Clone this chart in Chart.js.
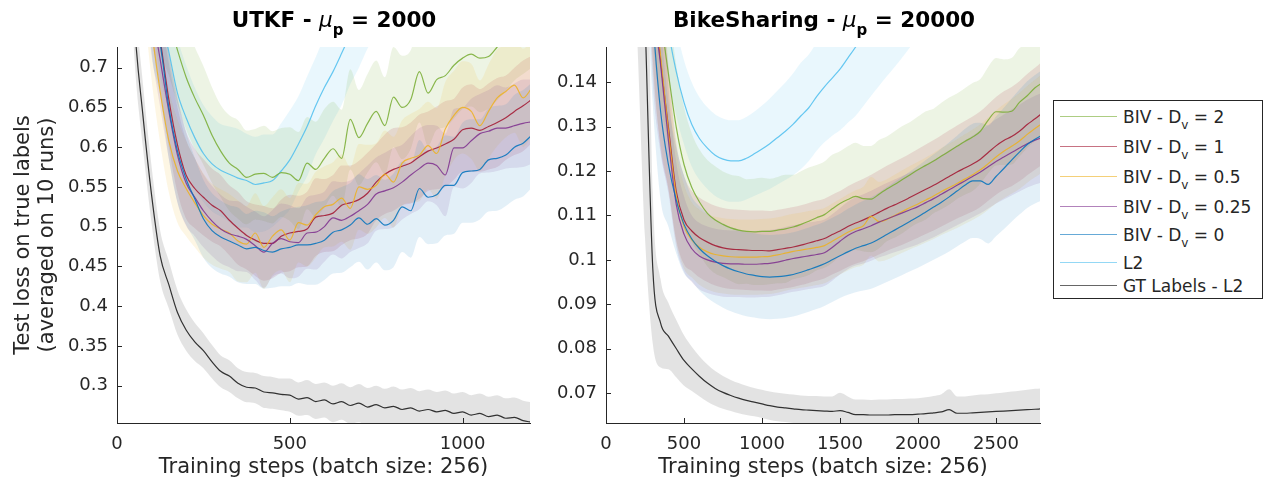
<!DOCTYPE html>
<html>
<head>
<meta charset="utf-8">
<script src="https://cdn.jsdelivr.net/npm/chart.js@4.4.1/dist/chart.umd.min.js"></script>
<style>
body { margin: 0; background: #fff; }
#page { position: relative; width: 1271px; height: 483px; overflow: hidden; font-family: "DejaVu Sans", sans-serif; background: #fff; }
canvas { position: absolute; top: 0; }
.ttl { position: absolute; top: 7px; width: 400px; height: 26px; line-height: 26px; text-align: center; font-weight: bold; font-size: 21.5px; color: #000; white-space: nowrap; }
.ttl .mu { font-style: italic; font-weight: normal; }
.ttl .sb { position: relative; top: 8px; font-size: 15px; }
#legend { position: absolute; left: 1053px; top: 100px; width: 208px; height: 197px; border: 1px solid #262626; background: #fff; }
.row { position: absolute; left: 0; width: 208px; height: 22px; line-height: 22px; font-size: 17px; color: #262626; }
.row i { position: absolute; left: 6px; top: 10px; width: 57px; height: 0; border-top: 1.5px solid; }
.row span.t { position: absolute; left: 69px; white-space: nowrap; }
.row .sb { position: relative; top: 6px; font-size: 12px; }
</style>
</head>
<body>
<div id="page">
  <canvas id="utkf" width="532" height="483" style="left:0px"></canvas>
  <canvas id="bike" width="492" height="483" style="left:550px"></canvas>
  <div class="ttl" style="left:134px">UTKF - <span class="mu">μ</span><span class="sb">p</span> = 2000</div>
  <div class="ttl" style="left:624px">BikeSharing - <span class="mu">μ</span><span class="sb">p</span> = 20000</div>
  <div id="legend"></div>
</div>
<script>
// ---------- UTKF panel (steps every 25) ----------
const utkSteps = [0,25,50,75,100,125,150,175,200,225,
  250,275,300,325,350,375,400,425,450,475,
  500,525,550,575,600,625,650,675,700,725,
  750,775,800,825,850,875,900,925,950,975,
  1000,1025,1050,1075,1100,1125,1150,1175,1200];

const utkGt = [1.2,1.0,0.76,0.64,0.54,0.463,0.427,0.392,0.37,0.355,
  0.344,0.33,0.318,0.312,0.303,0.298,0.297,0.292,0.291,0.289,
  0.288,0.283,0.285,0.28,0.282,0.277,0.28,0.275,0.278,0.273,
  0.276,0.272,0.274,0.27,0.272,0.268,0.27,0.267,0.269,0.265,
  0.267,0.263,0.265,0.261,0.263,0.259,0.26,0.256,0.254];
const utkL2 = [1.2,1.15,1.05,0.95,0.85,0.77,0.72,0.668,0.637,0.612,
  0.592,0.579,0.571,0.566,0.561,0.558,0.553,0.555,0.558,0.57,
  0.584,0.604,0.626,0.652,0.675,0.695,0.718,0.742,0.766,0.79,
  0.81,0.83,0.85,0.87,0.89,0.91,0.93,0.95,0.97,0.99,
  1.0,1.02,1.04,1.06,1.08,1.1,1.12,1.14,1.16];
const utkDv2 = [1.2,1.1,1.0,0.92,0.85,0.79,0.76,0.722,0.688,0.662,
  0.64,0.615,0.595,0.58,0.572,0.562,0.566,0.567,0.562,0.568,
  0.566,0.558,0.58,0.572,0.586,0.598,0.586,0.635,0.612,0.63,
  0.645,0.627,0.663,0.65,0.66,0.695,0.668,0.685,0.69,0.703,
  0.712,0.717,0.712,0.714,0.726,0.74,0.75,0.76,0.77];
const utkDv1 = [1.2,1.1,1.0,0.9,0.8,0.735,0.66,0.603,0.565,0.548,
  0.537,0.527,0.52,0.508,0.498,0.489,0.483,0.479,0.479,0.488,
  0.492,0.494,0.497,0.512,0.514,0.517,0.527,0.53,0.534,0.542,
  0.556,0.566,0.572,0.576,0.58,0.588,0.595,0.599,0.604,0.61,
  0.622,0.624,0.621,0.626,0.631,0.637,0.645,0.652,0.66];
const utkDv05 = [1.2,1.1,1.0,0.86,0.75,0.67,0.608,0.57,0.548,0.53,
  0.514,0.503,0.497,0.492,0.482,0.478,0.492,0.474,0.488,0.496,
  0.483,0.505,0.502,0.515,0.525,0.528,0.536,0.523,0.55,0.547,
  0.552,0.566,0.556,0.58,0.586,0.59,0.602,0.592,0.623,0.64,
  0.65,0.645,0.627,0.645,0.662,0.67,0.678,0.662,0.674];
const utkDv025 = [1.2,1.1,1.0,0.9,0.78,0.71,0.645,0.59,0.555,0.537,
  0.52,0.507,0.497,0.491,0.488,0.484,0.476,0.468,0.479,0.485,
  0.481,0.48,0.492,0.493,0.5,0.511,0.508,0.513,0.52,0.528,
  0.541,0.545,0.549,0.556,0.565,0.573,0.58,0.577,0.565,0.599,
  0.599,0.608,0.617,0.62,0.624,0.624,0.627,0.63,0.632];
const utkDv0 = [1.2,1.1,1.0,0.9,0.78,0.73,0.65,0.595,0.56,0.535,
  0.51,0.495,0.487,0.482,0.477,0.472,0.474,0.47,0.468,0.472,
  0.474,0.477,0.477,0.479,0.483,0.493,0.496,0.502,0.511,0.503,
  0.51,0.502,0.508,0.525,0.52,0.548,0.537,0.54,0.552,0.552,
  0.568,0.57,0.572,0.584,0.586,0.59,0.6,0.605,0.615];

// spread (std over runs) for each UTKF curve
const utkGtSd = [0.05,0.05,0.045,0.04,0.036,0.032,0.03,0.028,0.026,0.024,
  0.022,0.021,0.02,0.02,0.019,0.019,0.019,0.02,0.02,0.02,
  0.021,0.021,0.022,0.022,0.022,0.023,0.023,0.023,0.024,0.024,
  0.024,0.024,0.025,0.025,0.025,0.025,0.025,0.025,0.025,0.025,
  0.025,0.025,0.025,0.025,0.025,0.025,0.025,0.025,0.025];
const utkL2Sd = [0.08,0.08,0.08,0.08,0.08,0.08,0.075,0.07,0.066,0.063,
  0.061,0.06,0.058,0.06,0.062,0.059,0.06,0.061,0.058,0.06,
  0.062,0.06,0.063,0.061,0.064,0.062,0.065,0.063,0.066,0.066,
  0.068,0.067,0.069,0.068,0.07,0.069,0.071,0.07,0.072,0.071,
  0.073,0.072,0.073,0.074,0.073,0.075,0.074,0.075,0.076];
const utkDv2Sd = [0.07,0.07,0.07,0.07,0.07,0.07,0.07,0.068,0.066,0.064,
  0.062,0.06,0.058,0.06,0.062,0.059,0.057,0.06,0.058,0.056,
  0.059,0.061,0.058,0.06,0.062,0.059,0.061,0.063,0.06,0.062,
  0.064,0.061,0.063,0.065,0.062,0.064,0.066,0.063,0.065,0.067,
  0.064,0.066,0.068,0.065,0.067,0.069,0.066,0.068,0.07];
const utkDv1Sd = [0.06,0.06,0.06,0.06,0.06,0.06,0.06,0.06,0.055,0.05,
  0.048,0.046,0.045,0.044,0.046,0.043,0.045,0.047,0.044,0.046,
  0.048,0.045,0.047,0.049,0.046,0.048,0.05,0.047,0.049,0.051,
  0.048,0.05,0.052,0.049,0.051,0.053,0.05,0.052,0.054,0.051,
  0.053,0.055,0.052,0.054,0.056,0.053,0.055,0.057,0.055];
const utkDv05Sd = [0.065,0.065,0.065,0.065,0.065,0.065,0.065,0.065,0.06,0.056,
  0.053,0.051,0.05,0.049,0.051,0.048,0.05,0.052,0.049,0.051,
  0.053,0.05,0.052,0.054,0.051,0.053,0.055,0.052,0.054,0.056,
  0.053,0.055,0.057,0.054,0.056,0.058,0.055,0.057,0.059,0.056,
  0.058,0.06,0.057,0.059,0.061,0.058,0.06,0.062,0.06];
const utkDv025Sd = [0.06,0.06,0.06,0.06,0.06,0.06,0.06,0.06,0.054,0.049,
  0.046,0.044,0.043,0.042,0.044,0.041,0.043,0.045,0.042,0.044,
  0.046,0.043,0.045,0.047,0.044,0.046,0.048,0.045,0.047,0.049,
  0.046,0.048,0.05,0.047,0.049,0.051,0.048,0.05,0.052,0.049,
  0.051,0.053,0.05,0.052,0.054,0.051,0.053,0.055,0.053];
const utkDv0Sd = [0.065,0.065,0.065,0.065,0.065,0.065,0.065,0.065,0.058,0.052,
  0.049,0.047,0.046,0.045,0.047,0.044,0.046,0.048,0.045,0.047,
  0.049,0.048,0.05,0.052,0.05,0.052,0.054,0.053,0.055,0.057,
  0.055,0.057,0.059,0.057,0.059,0.061,0.059,0.061,0.063,0.061,
  0.063,0.065,0.063,0.065,0.066,0.064,0.066,0.067,0.066];

const utkXTicks = [0, 500, 1000];
const utkYTicks = [0.3, 0.35, 0.4, 0.45, 0.5, 0.55, 0.6, 0.65, 0.7];

// ---------- BikeSharing panel (steps every 50) ----------
const bikeSteps = [0,50,100,150,200,250,300,350,400,450,
  500,550,600,650,700,750,800,850,900,950,
  1000,1050,1100,1150,1200,1250,1300,1350,1400,1450,
  1500,1550,1600,1650,1700,1750,1800,1850,1900,1950,
  2000,2050,2100,2150,2200,2250,2300,2350,2400,2450,
  2500,2550,2600,2650,2700,2750,2800];

const bikeGt = [0.35,0.32,0.29,0.25,0.21,0.155,0.098,0.0857,0.0828,0.08,
  0.0773,0.0754,0.0737,0.0722,0.071,0.0701,0.0694,0.0688,0.0683,0.0679,
  0.0675,0.0671,0.0668,0.0666,0.0664,0.0662,0.0661,0.066,0.0659,0.0658,
  0.066,0.0656,0.0651,0.0651,0.065,0.065,0.065,0.0651,0.0651,0.0651,
  0.0652,0.0653,0.0655,0.0657,0.0662,0.0654,0.0654,0.0655,0.0656,0.0657,
  0.0658,0.0659,0.066,0.0661,0.0662,0.0663,0.0664];
const bikeL2 = [0.35,0.34,0.32,0.3,0.27,0.23,0.19,0.168,0.152,0.1425,
  0.1355,0.1305,0.1273,0.1252,0.1236,0.1227,0.1223,0.1223,0.1229,0.1239,
  0.125,0.1262,0.1276,0.129,0.1306,0.1325,0.1343,0.1368,0.139,0.141,
  0.143,0.1455,0.148,0.151,0.154,0.157,0.16,0.163,0.166,0.169,
  0.172,0.175,0.178,0.181,0.184,0.187,0.19,0.193,0.196,0.199,
  0.202,0.205,0.208,0.211,0.214,0.217,0.22];
const bikeDv2 = [0.35,0.33,0.31,0.28,0.24,0.2,0.17,0.155,0.142,0.13,
  0.1215,0.1163,0.113,0.1105,0.109,0.108,0.1072,0.1067,0.1064,0.1063,
  0.1064,0.1064,0.1067,0.107,0.1074,0.108,0.1087,0.1095,0.1102,0.1115,
  0.1127,0.1136,0.1143,0.1138,0.1137,0.1148,0.116,0.117,0.1181,0.1192,
  0.1203,0.1213,0.1223,0.1234,0.1245,0.1256,0.1267,0.1277,0.129,0.1315,
  0.1334,0.1333,0.1335,0.1355,0.137,0.1388,0.14];
const bikeDv1 = [0.35,0.33,0.31,0.28,0.24,0.2,0.165,0.145,0.13,0.1155,
  0.109,0.1065,0.105,0.104,0.1032,0.1027,0.1024,0.1023,0.1022,0.1021,
  0.1021,0.102,0.1023,0.1026,0.1029,0.1033,0.1038,0.1043,0.1048,0.1057,
  0.1065,0.1075,0.1083,0.109,0.1098,0.1107,0.1116,0.1124,0.1132,0.1141,
  0.115,0.1159,0.1168,0.1178,0.1188,0.1198,0.1207,0.1216,0.1227,0.1242,
  0.1257,0.1269,0.1278,0.129,0.1305,0.1318,0.1332];
const bikeDv05 = [0.35,0.33,0.31,0.28,0.24,0.2,0.163,0.146,0.129,0.1145,
  0.1075,0.1045,0.1028,0.1018,0.1012,0.1009,0.1007,0.1006,0.1006,0.1006,
  0.1007,0.1008,0.1011,0.1015,0.1019,0.1022,0.1025,0.1028,0.1032,0.1042,
  0.1052,0.1062,0.107,0.1077,0.1098,0.1086,0.1091,0.11,0.1109,0.1118,
  0.1126,0.1135,0.1144,0.1154,0.1163,0.1172,0.1182,0.1192,0.1203,0.1217,
  0.1232,0.1245,0.1256,0.1268,0.1283,0.1296,0.1309];
const bikeDv025 = [0.35,0.33,0.31,0.28,0.24,0.2,0.16,0.144,0.127,0.1125,
  0.1058,0.1025,0.1008,0.1,0.0995,0.0992,0.0991,0.0991,0.099,0.099,
  0.0991,0.0992,0.0995,0.0999,0.1003,0.1006,0.1009,0.1012,0.1016,0.1028,
  0.1042,0.1055,0.1064,0.107,0.1077,0.1085,0.1092,0.1099,0.1106,0.1113,
  0.112,0.1129,0.1138,0.1148,0.1158,0.1168,0.1178,0.1188,0.1198,0.121,
  0.1222,0.1232,0.1242,0.1252,0.1262,0.127,0.1276];
const bikeDv0 = [0.35,0.33,0.3,0.27,0.23,0.19,0.155,0.1335,0.1215,0.1135,
  0.108,0.1047,0.1025,0.1009,0.0997,0.0987,0.0979,0.0973,0.0968,0.0965,
  0.0962,0.0961,0.0962,0.0964,0.0967,0.0972,0.0978,0.0984,0.0991,0.1,
  0.1009,0.1018,0.1026,0.1032,0.1038,0.1047,0.1057,0.1067,0.1077,0.1087,
  0.1097,0.1108,0.1119,0.113,0.1142,0.1155,0.1168,0.1178,0.1178,0.117,
  0.1188,0.1206,0.1225,0.1243,0.126,0.1272,0.1282];

const bikeGtSd = [0.06,0.06,0.06,0.06,0.06,0.05,0.017,0.01,0.0075,0.0065,
  0.0057,0.005,0.0045,0.0042,0.0039,0.0037,0.0035,0.0034,0.0033,0.0032,
  0.0032,0.0032,0.0032,0.0032,0.0032,0.0032,0.0032,0.0033,0.0033,0.0034,
  0.004,0.0036,0.0034,0.0034,0.0034,0.0035,0.0035,0.0035,0.0035,0.0036,
  0.0036,0.0037,0.0038,0.004,0.0046,0.0038,0.0038,0.0039,0.004,0.004,
  0.0041,0.0042,0.0043,0.0044,0.0045,0.0046,0.0046];
const bikeL2Sd = [0.02,0.02,0.02,0.02,0.02,0.02,0.015,0.012,0.011,0.01,
  0.0095,0.0095,0.0093,0.0092,0.0092,0.0092,0.0092,0.0092,0.0093,0.0095,
  0.0098,0.0102,0.0106,0.011,0.0115,0.012,0.012,0.0122,0.0125,0.013,
  0.0138,0.0146,0.0155,0.0163,0.017,0.0178,0.0186,0.0195,0.0203,0.021,
  0.0215,0.022,0.0225,0.023,0.0235,0.024,0.0245,0.025,0.0255,0.026,
  0.0265,0.027,0.0275,0.028,0.0285,0.029,0.03];
const bikeDv2Sd = [0.02,0.02,0.02,0.02,0.02,0.02,0.02,0.02,0.016,0.014,
  0.013,0.0122,0.0118,0.012,0.0121,0.0119,0.012,0.0122,0.0118,0.012,
  0.0121,0.0119,0.012,0.0122,0.0118,0.012,0.0121,0.0119,0.012,0.0122,
  0.0118,0.012,0.0121,0.0119,0.012,0.0122,0.0118,0.012,0.0121,0.0119,
  0.012,0.0122,0.0118,0.012,0.0121,0.0119,0.012,0.0122,0.0118,0.012,
  0.0121,0.0119,0.012,0.0122,0.0118,0.012,0.0121];
const bikeDv1Sd = [0.02,0.02,0.02,0.02,0.02,0.02,0.02,0.02,0.014,0.011,
  0.01,0.009,0.009,0.009,0.009,0.009,0.009,0.009,0.009,0.009,
  0.009,0.009,0.009,0.009,0.009,0.009,0.009,0.009,0.009,0.009,
  0.009,0.0091,0.0092,0.0093,0.0094,0.0095,0.0096,0.0097,0.0098,0.0099,
  0.01,0.0101,0.0102,0.0103,0.0104,0.0105,0.0106,0.0107,0.0108,0.0109,
  0.011,0.0111,0.0112,0.0113,0.0114,0.0115,0.0116];
const bikeDv05Sd = [0.02,0.02,0.02,0.02,0.02,0.02,0.02,0.02,0.013,0.0105,
  0.0095,0.0085,0.0085,0.0085,0.0085,0.0085,0.0085,0.0085,0.0085,0.0085,
  0.0085,0.0085,0.0085,0.0085,0.0085,0.0085,0.0085,0.0085,0.0085,0.0085,
  0.0085,0.0086,0.0087,0.0088,0.0089,0.009,0.0091,0.0092,0.0093,0.0094,
  0.0095,0.0096,0.0097,0.0098,0.0099,0.01,0.0101,0.0102,0.0103,0.0104,
  0.0105,0.0106,0.0107,0.0108,0.0109,0.011,0.0111];
const bikeDv025Sd = [0.02,0.02,0.02,0.02,0.02,0.02,0.02,0.02,0.012,0.0095,
  0.0085,0.0075,0.0075,0.0075,0.0075,0.0075,0.0075,0.0075,0.0075,0.0075,
  0.0075,0.0075,0.0075,0.0075,0.0075,0.0075,0.0075,0.0075,0.0075,0.0075,
  0.0075,0.0076,0.0077,0.0078,0.0079,0.008,0.0081,0.0082,0.0083,0.0084,
  0.0085,0.0086,0.0087,0.0088,0.0089,0.009,0.0091,0.0092,0.0093,0.0094,
  0.0095,0.0096,0.0097,0.0098,0.0099,0.01,0.0101];
const bikeDv0Sd = [0.02,0.02,0.02,0.02,0.02,0.02,0.02,0.02,0.014,0.012,
  0.011,0.0095,0.0095,0.0095,0.0095,0.0095,0.0095,0.0095,0.0095,0.0095,
  0.0095,0.0095,0.0095,0.0095,0.0095,0.0095,0.0095,0.0095,0.0095,0.0095,
  0.0095,0.0097,0.0099,0.0101,0.0103,0.0105,0.0107,0.0109,0.0111,0.0113,
  0.0115,0.0117,0.0119,0.0121,0.0123,0.0125,0.0127,0.0129,0.0131,0.0133,
  0.0135,0.0137,0.0139,0.0141,0.0143,0.0145,0.0147];

const bikeXTicks = [0, 500, 1000, 1500, 2000, 2500];
const bikeYTicks = [0.07, 0.08, 0.09, 0.1, 0.11, 0.12, 0.13, 0.14];

const legendNames = ['BIV - D|v| = 2', 'BIV - D|v| = 1', 'BIV - D|v| = 0.5', 'BIV - D|v| = 0.25', 'BIV - D|v| = 0', 'L2', 'GT Labels - L2'];

//colors (matlab default order)
const seriesStyle = {
  dv2:  { rgb: '119,172,48', band: 0.13 },
  dv1:  { rgb: '162,20,47', band: 0.12 },
  dv05: { rgb: '237,177,32', band: 0.12 },
  dv025:{ rgb: '126,47,142', band: 0.12 },
  dv0:  { rgb: '0,114,189', band: 0.11 },
  l2:   { rgb: '77,190,238', band: 0.12 },
  gt:   { rgb: '0,0,0', band: 0.11 }
};
const legendKeys = ['dv2', 'dv1', 'dv05', 'dv025', 'dv0', 'l2', 'gt'];
const legendRowTop = [4.7, 34.7, 64.7, 94.7, 123, 151.3, 174];

// legend (html so the subscript v renders)
const legendBox = document.getElementById('legend');
legendNames.forEach((name, i) => {
  const st = seriesStyle[legendKeys[i]];
  const row = document.createElement('div');
  row.className = 'row';
  row.style.top = legendRowTop[i] + 'px';
  const parts = name.split('|');
  let html = parts[0];
  if (parts.length > 1) html += '<span class="sb">' + parts[1] + '</span>' + parts[2];
  row.innerHTML = '<i style="border-color:rgba(' + st.rgb + ',0.6)"></i><span class="t">' + html + '</span>';
  legendBox.appendChild(row);
});

Chart.defaults.font.family = '"DejaVu Sans", sans-serif';
Chart.defaults.color = '#262626';

const inwardTicks = {
  id: 'inwardTicks',
  afterDatasetsDraw(chart) {
    const { ctx, chartArea: a, scales: { x, y } } = chart;
    ctx.save();
    ctx.strokeStyle = '#262626';
    ctx.lineWidth = 1;
    ctx.beginPath();
    x.ticks.forEach(t => {
      const px = Math.round(x.getPixelForValue(t.value)) + 0.5;
      ctx.moveTo(px, a.bottom); ctx.lineTo(px, a.bottom - 5);
    });
    y.ticks.forEach(t => {
      const py = Math.round(y.getPixelForValue(t.value)) + 0.5;
      ctx.moveTo(a.left, py); ctx.lineTo(a.left + 5, py);
    });
    ctx.stroke();
    ctx.restore();
  }
};

function buildDatasets(steps, series) {
  const lines = [];
  const bands = [];
  series.forEach(s => {
    const st = seriesStyle[s.key];
    lines.push({
      data: steps.map((x, i) => ({ x: x, y: s.vals[i] })),
      borderColor: s.key === 'gt' ? 'rgba(30,30,30,0.9)' : 'rgba(' + st.rgb + ',0.85)',
      borderWidth: 1.2,
      pointRadius: 0,
      cubicInterpolationMode: 'monotone',
      fill: false
    });
    bands.push({
      data: steps.map((x, i) => ({ x: x, y: s.vals[i] + s.sd[i] })),
      borderColor: 'rgba(0,0,0,0)',
      borderWidth: 0,
      pointRadius: 0,
      cubicInterpolationMode: 'monotone',
      backgroundColor: 'rgba(' + st.rgb + ',' + st.band + ')',
      fill: '+1'
    });
    bands.push({
      data: steps.map((x, i) => ({ x: x, y: s.vals[i] - s.sd[i] })),
      borderColor: 'rgba(0,0,0,0)',
      borderWidth: 0,
      pointRadius: 0,
      cubicInterpolationMode: 'monotone',
      fill: false
    });
  });
  return lines.concat(bands);
}

function makePanel(id, steps, series, cfg) {
  const ctx = document.getElementById(id).getContext('2d');
  return new Chart(ctx, {
    type: 'line',
    data: { datasets: buildDatasets(steps, series) },
    options: {
      responsive: false,
      animation: false,
      layout: { padding: { top: 47, right: 2, bottom: 0, left: 0 } },
      plugins: { legend: { display: false }, tooltip: { enabled: false } },
      scales: {
        x: {
          type: 'linear',
          min: 0,
          max: cfg.xMax,
          grid: { display: false, drawTicks: false },
          border: { display: true, color: '#262626', width: 1 },
          ticks: { font: { size: 18 }, color: '#262626', padding: 11, maxRotation: 0, autoSkip: false, callback: v => String(v) },
          title: { display: true, text: 'Training steps (batch size: 256)', font: { size: 21 }, color: '#262626', padding: { top: 0, bottom: 3 } },
          afterBuildTicks: s => { s.ticks = cfg.xTicks.map(v => ({ value: v })); },
          afterFit: s => { s.height = 60; }
        },
        y: {
          min: cfg.yMin,
          max: cfg.yMax,
          grid: { display: false, drawTicks: false },
          border: { display: true, color: '#262626', width: 1 },
          ticks: { font: { size: 18 }, color: '#262626', padding: 9, autoSkip: false, callback: v => String(+v.toFixed(4)) },
          title: cfg.yTitle ? { display: true, text: cfg.yTitle, font: { size: 21, lineHeight: 1.15 }, color: '#262626', padding: { top: 11, bottom: 0 } } : { display: false },
          afterBuildTicks: s => { s.ticks = cfg.yTicks.map(v => ({ value: v })); },
          afterFit: s => { s.width = cfg.yWidth; }
        }
      }
    },
    plugins: [inwardTicks]
  });
}

makePanel('utkf', utkSteps, [
  { key: 'gt', vals: utkGt, sd: utkGtSd },
  { key: 'dv0', vals: utkDv0, sd: utkDv0Sd },
  { key: 'dv025', vals: utkDv025, sd: utkDv025Sd },
  { key: 'dv05', vals: utkDv05, sd: utkDv05Sd },
  { key: 'dv1', vals: utkDv1, sd: utkDv1Sd },
  { key: 'dv2', vals: utkDv2, sd: utkDv2Sd },
  { key: 'l2', vals: utkL2, sd: utkL2Sd }
], { xMax: 1195, yMin: 0.253, yMax: 0.726, xTicks: utkXTicks, yTicks: utkYTicks, yWidth: 117,
     yTitle: ['Test loss on true labels', '(averaged on 10 runs)'] });

makePanel('bike', bikeSteps, [
  { key: 'gt', vals: bikeGt, sd: bikeGtSd },
  { key: 'dv0', vals: bikeDv0, sd: bikeDv0Sd },
  { key: 'dv025', vals: bikeDv025, sd: bikeDv025Sd },
  { key: 'dv05', vals: bikeDv05, sd: bikeDv05Sd },
  { key: 'dv1', vals: bikeDv1, sd: bikeDv1Sd },
  { key: 'dv2', vals: bikeDv2, sd: bikeDv2Sd },
  { key: 'l2', vals: bikeL2, sd: bikeL2Sd }
], { xMax: 2782, yMin: 0.0632, yMax: 0.148, xTicks: bikeXTicks, yTicks: bikeYTicks, yWidth: 56, yTitle: null });
</script>
</body>
</html>
